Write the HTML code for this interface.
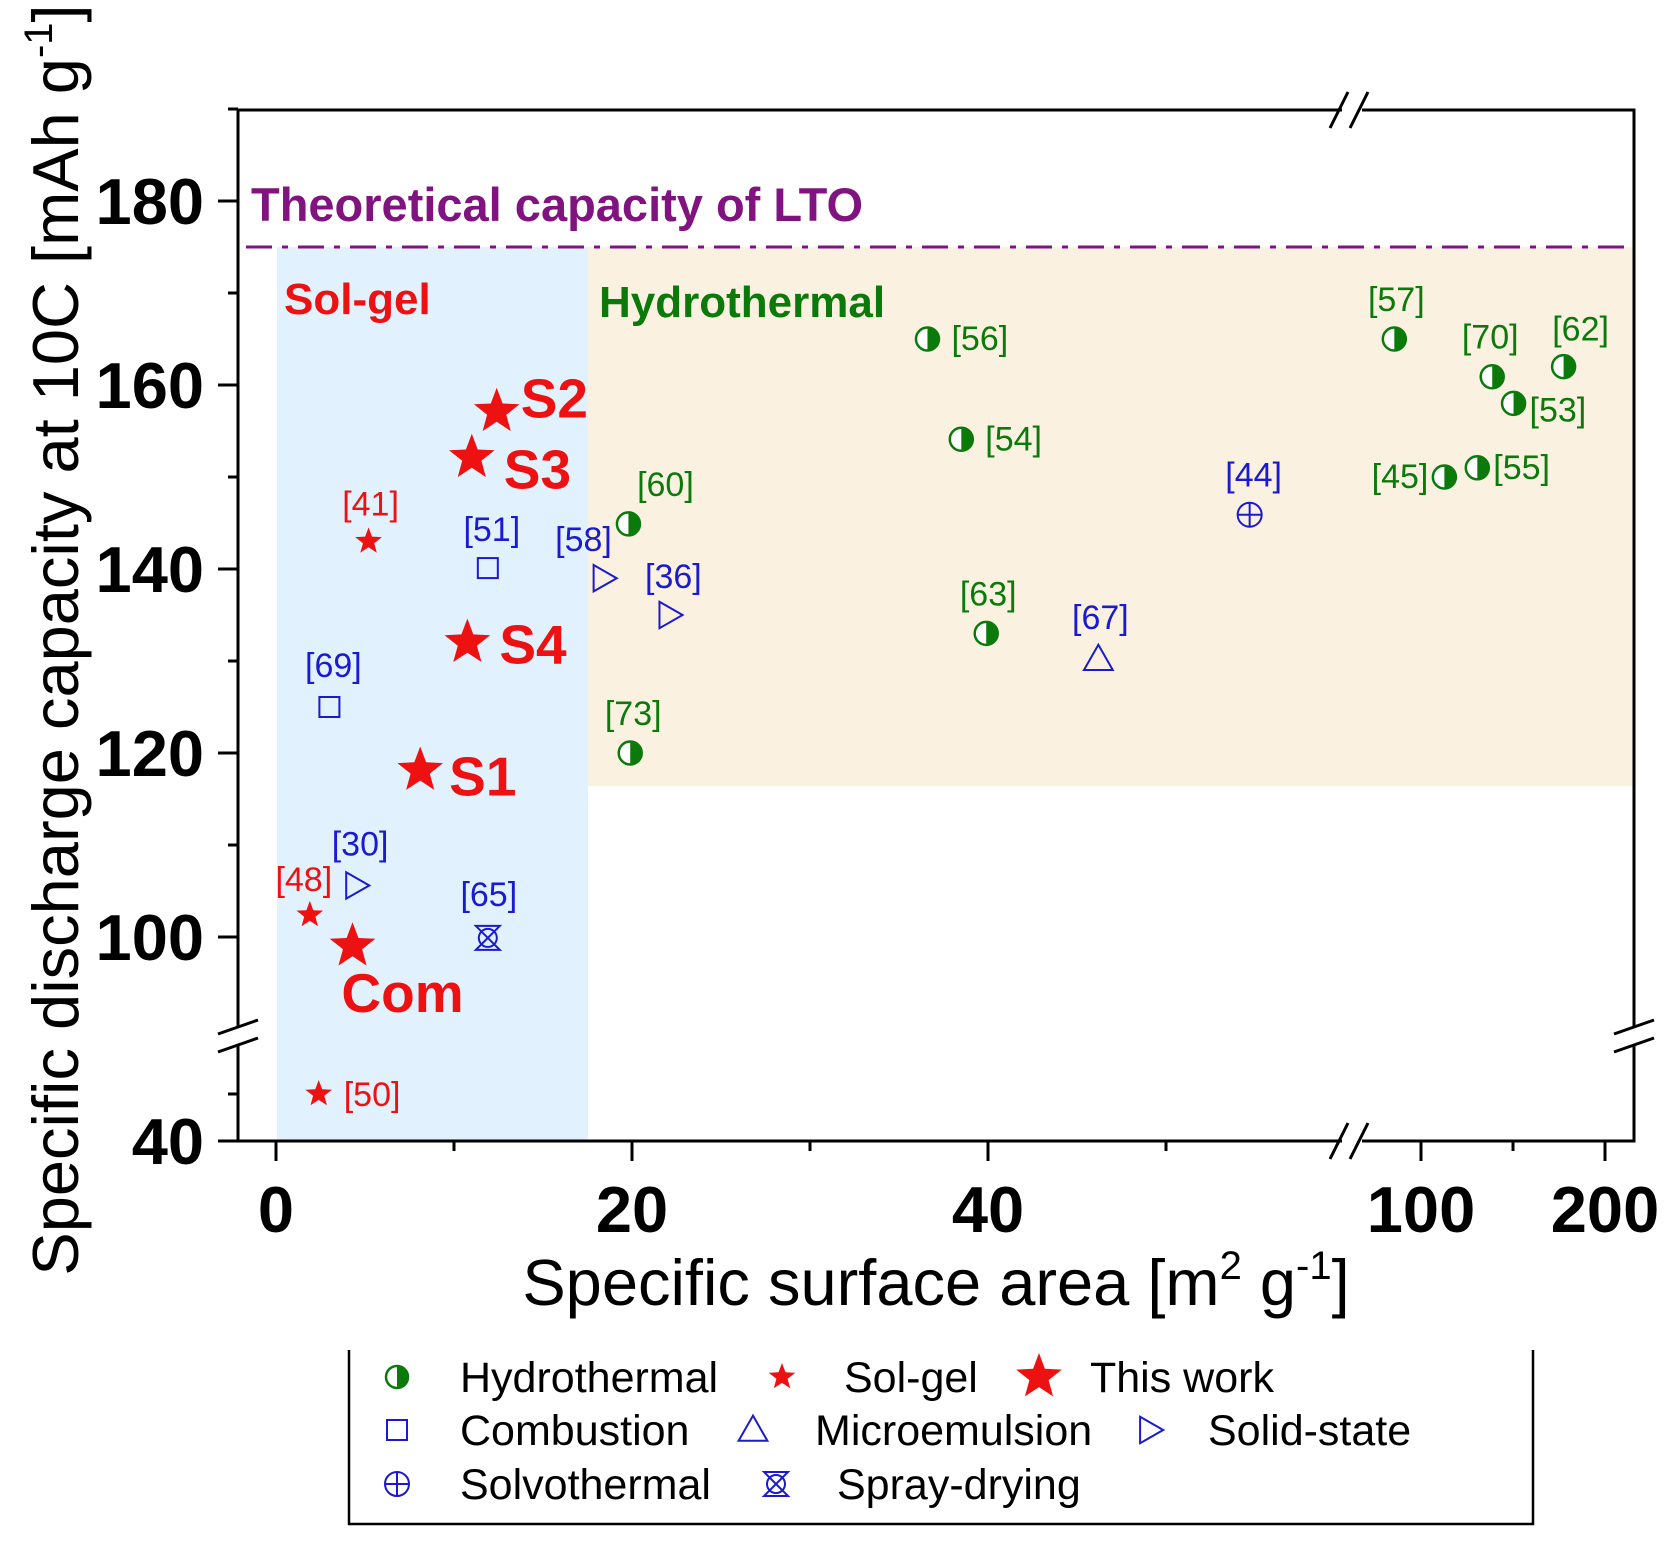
<!DOCTYPE html>
<html><head><meta charset="utf-8"><style>
html,body{margin:0;padding:0;background:#fff;}
svg{display:block;font-family:"Liberation Sans",Arial,sans-serif;}
</style></head><body>
<svg id="chart" width="1676" height="1549" viewBox="0 0 1676 1549" xmlns="http://www.w3.org/2000/svg">
<g id="bg"></g><g id="axes"></g><g id="marks"></g><g id="legend"></g>
</svg>
<script>
// ---- data ----
const hydroNames = ["[56]","[54]","[60]","[73]","[63]","[57]","[70]","[62]","[53]","[45]","[55]"];
const hydroX = [36.6,38.5,19.8,19.9,39.9,85.5,138.7,177.5,150.3,112.7,130.6];
const hydroY = [165,154.1,144.9,120,133,165,160.9,162,158,150,151];
const solgelNames = ["[41]","[48]","[50]"];
const solgelX = [5.2,1.9,2.4];
const solgelY = [143,102.4,45];
const workNames = ["S2","S3","S4","S1","Com"];
const workX = [12.4,11.0,10.75,8.1,4.3];
const workY = [157.1,152.1,132,118.1,99];
const combNames = ["[51]","[69]"];
const combX = [11.9,3.0];
const combY = [140.1,125];
const solidNames = ["[58]","[36]","[30]"];
const solidX = [18.4,22.1,4.5];
const solidY = [139,135,105.6];
const microNames = ["[67]"]; const microX = [46.2]; const microY = [130.2];
const solvoNames = ["[44]"]; const solvoX = [54.7]; const solvoY = [145.9];
const sprayNames = ["[65]"]; const sprayX = [11.9]; const sprayY = [99.9];
const yTickLabels = [180,160,140,120,100,40];
const xTickLabels = [0,20,40,100,200];
const theoretical = 175;

// ---- scales (broken axes) ----
function xs(v){ return v<=65 ? 276+17.8*v : 1421+1.84*(v-100); }
function ys(v){ return v>=90 ? 937-9.2*(v-100) : 1141-9.4*(v-40); }

const NS="http://www.w3.org/2000/svg";
function mk(parent,tag,attrs,text){
  const e=document.createElementNS(NS,tag);
  for(const k in attrs) e.setAttribute(k,attrs[k]);
  if(text!==undefined) e.textContent=text;
  document.getElementById(parent).appendChild(e); return e;
}
const RED="#ee1111", GREEN="#0b7a0b", BLUE="#1a1ad0", PURPLE="#80137f";

let e;
e=mk('bg','rect',{x:277,y:ys(theoretical),width:588-277,height:1141-ys(theoretical),fill:"#e1f1fd"});


e=mk('bg','rect',{x:588,y:ys(theoretical),width:1634-588,height:ys(116.4)-ys(theoretical),fill:"#fbf1e1"});


e=mk('bg','line',{x1:246,x2:1634,y1:ys(theoretical),y2:ys(theoretical),stroke:PURPLE,"stroke-width":3,"stroke-dasharray":"26 10 6 10"});



e=mk('axes','path',{d:"M238 110 H1634 V1141 H238 Z",fill:"none",stroke:"#000","stroke-width":3});


function brk(cx,cy,horiz,name){
  const g=mk('axes','g',{});
  
  
  if(horiz){
    mk('axes','rect',{x:cx-10,y:cy-8,width:20,height:16,fill:"#fff"});
    mk('axes','line',{x1:cx-22,y1:cy+18,x2:cx-4,y2:cy-18,stroke:"#000","stroke-width":3});
    mk('axes','line',{x1:cx-2,y1:cy+18,x2:cx+16,y2:cy-18,stroke:"#000","stroke-width":3});
  } else {
    mk('axes','rect',{x:cx-8,y:cy-9,width:16,height:18,fill:"#fff"});
    mk('axes','line',{x1:cx-20,y1:cy-2,x2:cx+20,y2:cy-16,stroke:"#000","stroke-width":3});
    mk('axes','line',{x1:cx-20,y1:cy+16,x2:cx+20,y2:cy+2,stroke:"#000","stroke-width":3});
  }
}
brk(238,1036,false,'y-axis-break-left');
brk(1634,1036,false,'y-axis-break-right');
brk(1352,110,true,'x-axis-break-top');
brk(1352,1141,true,'x-axis-break-bottom');

[190,180,170,160,150,140,130,120,110,100,45].forEach(v=>{
  const major = yTickLabels.indexOf(v)>=0;
  mk('axes','line',{x1:238-(major?20:10),x2:238,y1:ys(v),y2:ys(v),stroke:"#000","stroke-width":3});
});
mk('axes','line',{x1:218,x2:238,y1:1141,y2:1141,stroke:"#000","stroke-width":3});
yTickLabels.forEach(v=>{
  e=mk('axes','text',{x:204,y:ys(v)+23,"text-anchor":"end","font-size":65,"font-weight":"bold",fill:"#000"},v);
  
  
});
[0,10,20,30,40,50,100,150,200].forEach(v=>{
  const major = xTickLabels.indexOf(v)>=0;
  mk('axes','line',{x1:xs(v),x2:xs(v),y1:1141,y2:1141+(major?20:10),stroke:"#000","stroke-width":3});
});
xTickLabels.forEach(v=>{
  e=mk('axes','text',{x:xs(v),y:1232,"text-anchor":"middle","font-size":65,"font-weight":"bold",fill:"#000"},v);
  
  
});
e=mk('axes','text',{x:936,y:1305,"text-anchor":"middle","font-size":65,fill:"#000"});


e.innerHTML='Specific surface area [m<tspan dy="-26" font-size="40">2</tspan><tspan dy="26"> g</tspan><tspan dy="-26" font-size="40">-1</tspan><tspan dy="26">]</tspan>';
e=mk('axes','text',{x:0,y:0,"text-anchor":"middle","font-size":65,fill:"#000",transform:"translate(78,640) rotate(-90)"});


e.innerHTML='Specific discharge capacity at 10C [mAh g<tspan dy="-26" font-size="40">-1</tspan><tspan dy="26">]</tspan>';

e=mk('axes','text',{x:251,y:221,"font-size":47,"font-weight":"bold",fill:PURPLE},"Theoretical capacity of LTO");


e=mk('axes','text',{x:284,y:314,"font-size":44,"font-weight":"bold",fill:RED},"Sol-gel");


e=mk('axes','text',{x:599,y:317,"font-size":44,"font-weight":"bold",fill:GREEN},"Hydrothermal");



function starPath(cx,cy,R){
  let d="";
  for(let i=0;i<10;i++){
    const r = i%2?R*0.42:R;
    const a = -Math.PI/2 + i*Math.PI/5;
    d += (i?"L":"M")+(cx+r*Math.cos(a)).toFixed(1)+" "+(cy+r*Math.sin(a)).toFixed(1);
  }
  return d+"Z";
}
function half(p,cx,cy,r){
  mk(p,'circle',{cx:cx,cy:cy,r:r,fill:"#fff",stroke:GREEN,"stroke-width":2.5});
  mk(p,'path',{d:`M${cx} ${cy-r} A${r} ${r} 0 0 1 ${cx} ${cy+r} Z`,fill:GREEN});
}
function square(p,cx,cy,s){ mk(p,'rect',{x:cx-s/2,y:cy-s/2,width:s,height:s,fill:"none",stroke:BLUE,"stroke-width":2}); }
function tri(p,cx,cy,s){ mk(p,'path',{d:`M${cx} ${cy-s*0.6} L${cx+s*0.6} ${cy+s*0.45} L${cx-s*0.6} ${cy+s*0.45} Z`,fill:"none",stroke:BLUE,"stroke-width":2}); }
function rtri(p,cx,cy,s){ mk(p,'path',{d:`M${cx-s*0.45} ${cy-s*0.6} L${cx+s*0.6} ${cy} L${cx-s*0.45} ${cy+s*0.6} Z`,fill:"none",stroke:BLUE,"stroke-width":2}); }
function solvo(p,cx,cy,r){
  mk(p,'circle',{cx:cx,cy:cy,r:r,fill:"none",stroke:BLUE,"stroke-width":2});
  mk(p,'path',{d:`M${cx-r} ${cy}H${cx+r}M${cx} ${cy-r}V${cy+r}`,stroke:BLUE,"stroke-width":2});
}
function spray(p,cx,cy,s){
  const h=s/2;
  mk(p,'path',{d:`M${cx-h} ${cy-h}H${cx+h}L${cx-h} ${cy+h}H${cx+h}Z`,fill:"none",stroke:BLUE,"stroke-width":2});
  mk(p,'circle',{cx:cx,cy:cy,r:h*0.75,fill:"none",stroke:BLUE,"stroke-width":2});
}
function label(txt,x,y,color,anchor,size,bold,name){
  const t=mk('marks','text',{x:x,y:y,"text-anchor":anchor,"font-size":size,fill:color,"font-weight":bold?"bold":"normal"},txt);
  
  
}

const LS=34;
const hydroOff = [[24,11,"start"],[24,11,"start"],[37,-28,"middle"],[3,-28,"middle"],[2,-28,"middle"],[2,-28,"middle"],[-2,-28,"middle"],[17,-26,"middle"],[16,18,"start"],[-16,11,"end"],[16,11,"start"]];
hydroNames.forEach((n,i)=>{
  const cx=xs(hydroX[i]), cy=ys(hydroY[i]);
  const g=mk('marks','g',{});
  
  
  g.id='h'+i; half('h'+i,cx,cy,11.5);
  label(n,cx+hydroOff[i][0],cy+hydroOff[i][1],GREEN,hydroOff[i][2],LS,false,'hydrothermal-label-'+n.replace(/\W/g,''));
});
const solOff=[[2,-26,"middle"],[-6,-24,"middle"],[25,12,"start"]];
solgelNames.forEach((n,i)=>{
  const cx=xs(solgelX[i]), cy=ys(solgelY[i]);
  e=mk('marks','path',{d:starPath(cx,cy,14),fill:RED});
  
  
  label(n,cx+solOff[i][0],cy+solOff[i][1],RED,solOff[i][2],LS,false,'sol-gel-label-'+n.replace(/\W/g,''));
});
const workOff=[[24,6,"start"],[32,31,"start"],[32,21,"start"],[29,25,"start"],[50,66,"middle"]];
workNames.forEach((n,i)=>{
  const cx=xs(workX[i]), cy=ys(workY[i]);
  e=mk('marks','path',{d:starPath(cx,cy,24),fill:RED});
  
  
  label(n,cx+workOff[i][0],cy+workOff[i][1],RED,workOff[i][2],55,true,'this-work-label-'+n.toLowerCase());
});
function blueSeries(names,X,Y,draw,size,offs,key){
  names.forEach((n,i)=>{
    const cx=xs(X[i]), cy=ys(Y[i]);
    const g=mk('marks','g',{});
    
    
    g.id=key+i; draw(key+i,cx,cy,size);
    label(n,cx+offs[i][0],cy+offs[i][1],BLUE,"middle",LS,false,key+'-label-'+n.replace(/\W/g,''));
  });
}
blueSeries(combNames,combX,combY,square,20,[[4,-27],[4,-30]],'combustion');
blueSeries(solidNames,solidX,solidY,rtri,22,[[-20,-27],[4,-27],[4,-30]],'solid-state');
blueSeries(microNames,microX,microY,tri,24,[[2,-30]],'microemulsion');
blueSeries(solvoNames,solvoX,solvoY,solvo,12,[[4,-28]],'solvothermal');
blueSeries(sprayNames,sprayX,sprayY,spray,24,[[1,-32]],'spray-drying');

e=mk('legend','path',{d:"M349 1350 V1524 H1533 V1350",fill:"none",stroke:"#000","stroke-width":2.5});


const legItems=[
  ["Hydrothermal",397,1377,460,(p,x,y)=>half(p,x,y,11)],
  ["Sol-gel",782,1377,844,(p,x,y)=>mk(p,'path',{d:starPath(x,y,14),fill:RED})],
  ["This work",1039,1377,1090,(p,x,y)=>mk(p,'path',{d:starPath(x,y,24),fill:RED})],
  ["Combustion",397,1430,460,(p,x,y)=>square(p,x,y,20)],
  ["Microemulsion",753,1430,815,(p,x,y)=>tri(p,x,y,24)],
  ["Solid-state",1150,1430,1208,(p,x,y)=>rtri(p,x,y,22)],
  ["Solvothermal",397,1484,460,(p,x,y)=>solvo(p,x,y,12)],
  ["Spray-drying",776,1484,837,(p,x,y)=>spray(p,x,y,24)]
];
legItems.forEach((it,i)=>{
  const g=mk('legend','g',{});
  
  
  g.id='lg'+i;
  it[4]('lg'+i,it[1],it[2]);
  const t=document.createElementNS(NS,'text');
  t.setAttribute('x',it[3]); t.setAttribute('y',it[2]+15);
  t.setAttribute('font-size',43); t.setAttribute('fill','#000');
  t.textContent=it[0];
  g.appendChild(t);
});
</script>
</body></html>
